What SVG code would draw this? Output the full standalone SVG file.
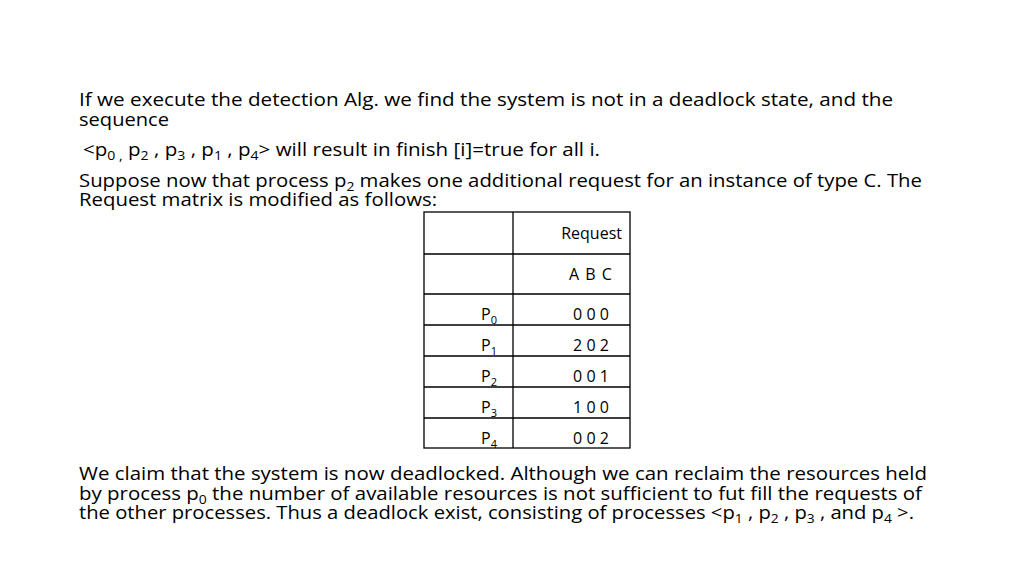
<svg xmlns="http://www.w3.org/2000/svg" width="1024" height="576" viewBox="0 0 1024 576">
<style>
.t{font-family:"Open Sans","Liberation Sans",sans-serif;font-size:19px;fill:#000}
.s{font-size:13px}
.c{font-family:"Open Sans","Liberation Sans",sans-serif;font-size:16px;fill:#000}
.cs{font-size:11px}
.g{stroke:#000;stroke-width:1.3;fill:none}
</style>
<rect width="1024" height="576" fill="#fff"/>
<g id="text">
<text class="t" x="79" y="106" textLength="814" lengthAdjust="spacingAndGlyphs">If we execute the detection Alg.  we find the system is not in a deadlock state, and the</text>
<text class="t" x="79" y="126" textLength="90" lengthAdjust="spacingAndGlyphs">sequence</text>
<text class="t" x="83" y="156" textLength="517" lengthAdjust="spacingAndGlyphs">&lt;p<tspan class="s" dy="4">0 ,</tspan><tspan dy="-4"> p</tspan><tspan class="s" dy="4">2</tspan><tspan dy="-4"> , p</tspan><tspan class="s" dy="4">3</tspan><tspan dy="-4"> , p</tspan><tspan class="s" dy="4">1</tspan><tspan dy="-4"> , p</tspan><tspan class="s" dy="4">4</tspan><tspan dy="-4">&gt; will result in finish [i]=true for all i.</tspan></text>
<text class="t" x="79" y="187" textLength="843" lengthAdjust="spacingAndGlyphs">Suppose now that process p<tspan class="s" dy="4">2</tspan><tspan dy="-4"> makes one additional request for an instance of type C. The</tspan></text>
<text class="t" x="79" y="206" textLength="358" lengthAdjust="spacingAndGlyphs">Request matrix is modified as follows:</text>
<text class="t" x="79" y="480" textLength="848" lengthAdjust="spacingAndGlyphs">We claim that the system is now deadlocked. Although we can reclaim the resources held</text>
<text class="t" x="79" y="500" textLength="843" lengthAdjust="spacingAndGlyphs">by process p<tspan class="s" dy="4">0</tspan><tspan dy="-4">  the number of available resources is not sufficient to fut fill the requests of</tspan></text>
<text class="t" x="79" y="519" textLength="835" lengthAdjust="spacingAndGlyphs">the other processes. Thus a deadlock exist, consisting of processes &lt;p<tspan class="s" dy="4">1</tspan><tspan dy="-4"> , p</tspan><tspan class="s" dy="4">2</tspan><tspan dy="-4"> , p</tspan><tspan class="s" dy="4">3</tspan><tspan dy="-4"> , and p</tspan><tspan class="s" dy="4">4</tspan><tspan dy="-4"> &gt;.</tspan></text>
</g>
<g id="table">
<rect class="g" x="424" y="212" width="206" height="236"/>
<path class="g" d="M513 212V448M424 254H630M424 294H630M424 325H630M424 356H630M424 387H630M424 418H630"/>
<text class="c" x="622" y="239" text-anchor="end">Request</text>
<text class="c" x="591" y="280" text-anchor="middle" letter-spacing="1">A B C</text>
<g text-anchor="middle" class="c">
<text x="591" y="320">0 0 0</text>
<text x="591" y="351">2 0 2</text>
<text x="591" y="382">0 0 1</text>
<text x="591" y="413">1 0 0</text>
<text x="591" y="444">0 0 2</text>
</g>
<text class="c" x="481" y="320">P<tspan class="cs" dy="4">0</tspan></text>
<text class="c" x="481" y="351">P<tspan class="cs" dy="4">1</tspan></text>
<text class="c" x="481" y="382">P<tspan class="cs" dy="4">2</tspan></text>
<text class="c" x="481" y="413">P<tspan class="cs" dy="4">3</tspan></text>
<text class="c" x="481" y="444">P<tspan class="cs" dy="4">4</tspan></text>
</g>
</svg>
